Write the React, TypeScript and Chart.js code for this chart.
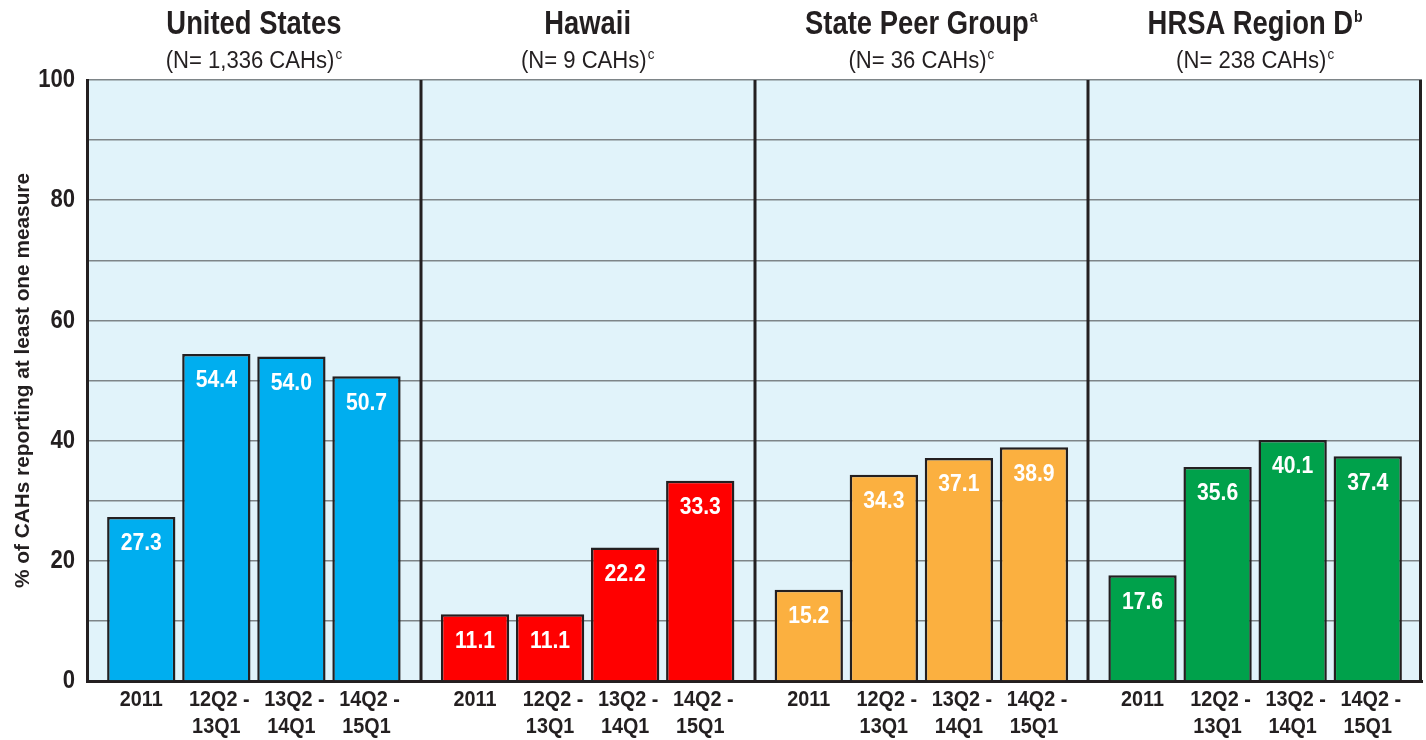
import React, { useEffect, useRef } from 'react';
import { Chart, registerables } from 'chart.js';

Chart.register(...registerables);

const groupNames = ['United States', 'Hawaii', 'State Peer Group', 'HRSA Region D'];
const groupNotes = ['', '', 'a', 'b'];
const groupCounts = ['(N= 1,336 CAHs)', '(N= 9 CAHs)', '(N= 36 CAHs)', '(N= 238 CAHs)'];
const countNote = 'c';
const periods = [['2011'], ['12Q2 -', '13Q1'], ['13Q2 -', '14Q1'], ['14Q2 -', '15Q1']];
const usValues = [27.3, 54.4, 54.0, 50.7];
const hawaiiValues = [11.1, 11.1, 22.2, 33.3];
const peerValues = [15.2, 34.3, 37.1, 38.9];
const regionValues = [17.6, 35.6, 40.1, 37.4];
const groupValues = [usValues, hawaiiValues, peerValues, regionValues];
const groupColors = ['#00AEEF', '#FF0000', '#FBB040', '#00A14B'];
const yTickLabels = [0, 20, 40, 60, 80, 100];
const yAxisTitle = '% of CAHs reporting at least one measure';

const FONT = '"Liberation Sans", Arimo, Arial, sans-serif';
const INK = '#231F20';
const PANEL_PAD = 0.223;
const PANEL_W = periods.length + 2 * PANEL_PAD;

const slotPos = (g: number, j: number) => g * PANEL_W + PANEL_PAD + 0.5 + j;

const tickPositions: number[] = [];
groupValues.forEach((vals, g) => vals.forEach((_, j) => tickPositions.push(slotPos(g, j))));

function drawText(
  ctx: CanvasRenderingContext2D,
  text: string,
  x: number,
  y: number,
  font: string,
  sx: number,
  align: CanvasTextAlign
) {
  ctx.save();
  ctx.font = font;
  ctx.textAlign = align;
  ctx.textBaseline = 'middle';
  ctx.translate(x, y);
  ctx.scale(sx, 1);
  ctx.fillText(text, 0, 0);
  ctx.restore();
}

function drawWithSup(
  ctx: CanvasRenderingContext2D,
  main: string,
  mainFont: string,
  sup: string,
  supFont: string,
  sx: number,
  cx: number,
  cy: number,
  supDy: number
) {
  ctx.font = mainFont;
  const w1 = ctx.measureText(main).width * sx;
  ctx.font = supFont;
  const w2 = sup ? ctx.measureText(sup).width * sx + 1 : 0;
  const start = cx - (w1 + w2) / 2;
  drawText(ctx, main, start, cy, mainFont, sx, 'left');
  if (sup) drawText(ctx, sup, start + w1 + 1, cy - supDy, supFont, sx, 'left');
}

const panelPlugin = {
  id: 'panelPlugin',
  beforeDraw(chart: any) {
    const { ctx, chartArea } = chart;
    ctx.save();
    ctx.fillStyle = '#E1F3FA';
    ctx.fillRect(chartArea.left, chartArea.top, chartArea.right - chartArea.left, chartArea.bottom - chartArea.top);
    ctx.restore();
  },
  beforeDatasetsDraw(chart: any) {
    const { ctx, chartArea, scales } = chart;
    ctx.save();
    ctx.strokeStyle = INK;
    ctx.lineWidth = 3;
    for (let g = 1; g <= groupNames.length; g++) {
      const x = Math.round(scales.x.getPixelForValue(g * PANEL_W)) - (g === groupNames.length ? 1.5 : 0);
      ctx.beginPath();
      ctx.moveTo(x, chartArea.top);
      ctx.lineTo(x, chartArea.bottom);
      ctx.stroke();
    }
    ctx.restore();
  },
  afterDatasetsDraw(chart: any) {
    const { ctx } = chart;
    ctx.save();
    ctx.fillStyle = '#FFFFFF';
    chart.data.datasets.forEach((ds: any, di: number) => {
      const meta = chart.getDatasetMeta(di);
      meta.data.forEach((el: any, i: number) => {
        const v = ds.data[i].y;
        drawText(ctx, v.toFixed(1), el.x, el.y + 27, `bold 23px ${FONT}`, 0.92, 'center');
      });
    });
    ctx.restore();
  },
  afterDraw(chart: any) {
    const { ctx, chartArea, scales } = chart;
    ctx.save();
    ctx.fillStyle = INK;
    // panel titles
    groupNames.forEach((name, g) => {
      const cx = scales.x.getPixelForValue(g * PANEL_W + PANEL_W / 2);
      drawWithSup(ctx, name, `bold 33px ${FONT}`, groupNotes[g], `bold 17px ${FONT}`, 0.83, cx, 25, 8);
      drawWithSup(ctx, groupCounts[g], `23px ${FONT}`, countNote, `14px ${FONT}`, 0.96, cx, 62, 7);
    });
    // x tick labels
    scales.x.ticks.forEach((t: any, i: number) => {
      const x = scales.x.getPixelForValue(t.value);
      const lines = periods[i % periods.length];
      lines.forEach((line, k) => {
        drawText(ctx, line, x + (line.endsWith('-') ? 3 : 0), chartArea.bottom + 19 + k * 27, `bold 22px ${FONT}`, 0.9, 'center');
      });
    });
    // y tick labels
    yTickLabels.forEach((v) => {
      const y = scales.y.getPixelForValue(v);
      drawText(ctx, String(v), chartArea.left - 12, y, `bold 26px ${FONT}`, 0.85, 'right');
    });
    // y axis title
    ctx.font = `bold 21px ${FONT}`;
    const w = ctx.measureText(yAxisTitle).width;
    ctx.translate(23, (chartArea.top + chartArea.bottom) / 2);
    ctx.rotate(-Math.PI / 2);
    drawText(ctx, yAxisTitle, 0, 0, `bold 21px ${FONT}`, 415 / w, 'center');
    ctx.restore();
  },
};

export default function App() {
  const canvasRef = useRef<HTMLCanvasElement | null>(null);

  useEffect(() => {
    document.body.style.margin = '0';
    const canvas = canvasRef.current;
    if (!canvas) return;
    const datasets = groupValues.map((vals, g) => ({
      label: groupNames[g],
      data: vals.map((v, j) => ({ x: slotPos(g, j), y: v })),
      backgroundColor: groupColors[g],
      borderColor: INK,
      borderWidth: 2.5,
      grouped: false,
      barPercentage: 0.91,
      categoryPercentage: 1,
    }));
    const chart = new Chart(canvas, {
      type: 'bar',
      data: { datasets: datasets as any },
      options: {
        responsive: false,
        animation: false,
        layout: { padding: { top: 80, right: 4, left: 0, bottom: 0 } },
        plugins: { legend: { display: false }, tooltip: { enabled: false } },
        scales: {
          x: {
            type: 'linear',
            offset: false,
            min: 0,
            max: groupNames.length * PANEL_W,
            grid: { display: false },
            border: { color: INK, width: 3 },
            afterBuildTicks: (scale: any) => {
              scale.ticks = tickPositions.map((v) => ({ value: v }));
            },
            afterFit: (scale: any) => {
              scale.height = 59;
            },
            ticks: { display: false, autoSkip: false },
          },
          y: {
            min: 0,
            max: 100,
            grid: { color: '#7E8588', lineWidth: 1.5, drawTicks: false },
            border: { color: INK, width: 3 },
            afterFit: (scale: any) => {
              scale.width = 87;
            },
            ticks: { display: false, stepSize: 10 },
          },
        },
      },
      plugins: [panelPlugin],
    });
    return () => chart.destroy();
  }, []);

  return (
    <div style={{ position: 'absolute', left: 0, top: 0, width: 1426, height: 740 }}>
      <canvas ref={canvasRef} width={1426} height={740} />
    </div>
  );
}
